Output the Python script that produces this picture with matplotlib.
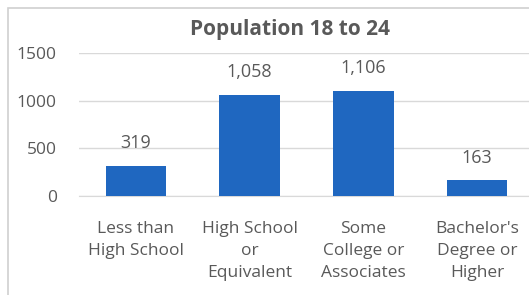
"""
Bar chart: population 18 to 24 by educational attainment
"""

import matplotlib
matplotlib.use("Agg")
import matplotlib.pyplot as plt
from matplotlib.patches import Rectangle

# data
categories = ["Less than\nHigh School", "High School\nor\nEquivalent",
              "Some\nCollege or\nAssociates", "Bachelor's\nDegree or\nHigher"]
population = [319, 1058, 1106, 163]
y_ticks = [0, 500, 1000, 1500]
title = "Population 18 to 24"

BAR_COLOR = "#1F67C0"
TEXT_GRAY = "#595959"
GRID_GRAY = "#D9D9D9"

plt.rcParams["font.family"] = ["Open Sans", "DejaVu Sans"]

W, H = 529, 295
fig = plt.figure(figsize=(W / 100, H / 100), dpi=100)
fig.patch.set_facecolor("white")

# chart frame, partly cut off on the right and bottom
fig.patches.append(Rectangle((8 / W, -0.05), 1.1, (H - 8) / H + 0.05,
                             transform=fig.transFigure, fill=False,
                             edgecolor="#D0D0D0", linewidth=1.2))

ax = fig.add_axes([79 / W, 99 / H, 455 / W, 143 / H])
x = range(len(categories))
bars = ax.bar(x, population, width=0.53, color=BAR_COLOR, zorder=3)

for rect, val in zip(bars, population):
    ax.annotate(f"{val:,}", (rect.get_x() + rect.get_width() / 2, rect.get_height()),
                xytext=(0, 10), textcoords="offset points", ha="center", va="bottom",
                fontsize=13, color=TEXT_GRAY)

ax.set_xlim(-0.5, len(categories) - 0.5)
ax.set_ylim(0, 1500)
ax.set_yticks(y_ticks)
ax.set_yticklabels([str(t) for t in y_ticks], fontsize=12.5, color=TEXT_GRAY)
ax.set_xticks(list(x))
ax.set_xticklabels(categories, fontsize=12.5, color=TEXT_GRAY, linespacing=1.5, va="top")
ax.tick_params(axis="x", length=0, pad=18)
ax.tick_params(axis="y", length=0, pad=16)
ax.grid(axis="y", color=GRID_GRAY, linewidth=1, zorder=0)
for side in ["left", "right", "top"]:
    ax.spines[side].set_visible(False)
ax.spines["bottom"].set_color(GRID_GRAY)
ax.set_facecolor("none")

fig.text(290 / W, 1 - 29 / H, title, ha="center", va="center", fontsize=15,
         fontweight="bold", color=TEXT_GRAY)

fig.savefig("out.png", dpi=100)
